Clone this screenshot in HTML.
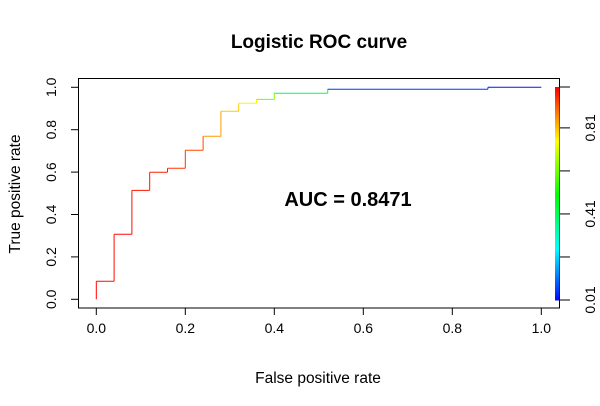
<!DOCTYPE html>
<html><head><meta charset="utf-8"><style>
body{margin:0;background:#fff}
svg{display:block;font-family:"Liberation Sans",Arial,sans-serif}
</style></head><body>
<svg id="chart" width="600" height="406" viewBox="0 0 600 406">
<text x="319" y="48" text-anchor="middle" font-size="19" font-weight="bold">Logistic ROC curve</text>
<rect x="78.5" y="78.5" width="481" height="229.5" fill="none" stroke="#000" stroke-width="1"/>
<text x="318" y="383" text-anchor="middle" font-size="15.5">False positive rate</text>
<text transform="translate(20,194) rotate(-90)" text-anchor="middle" font-size="15.5">True positive rate</text>
<text x="348" y="206" text-anchor="middle" font-size="20" font-weight="bold">AUC = 0.8471</text>
<g id="axes"></g>
<g id="curve"></g>
<g id="cbar"></g>
</svg>
<script>
const fprSteps = [0, 0.04, 0.08, 0.12, 0.16, 0.20, 0.24, 0.28, 0.32, 0.36, 0.40, 0.52, 0.88, 1.0];
const tprSteps = [0.085, 0.307, 0.514, 0.599, 0.618, 0.703, 0.769, 0.887, 0.925, 0.943, 0.972, 0.991, 1.0, 1.0];
const thresholds = [1.0, 0.99, 0.99, 0.98, 0.97, 0.95, 0.93, 0.85, 0.8, 0.76, 0.62, 0.42, 0.05, 0.02];
const xTicks = [0, 0.2, 0.4, 0.6, 0.8, 1.0];
const xTickLabels = ["0.0", "0.2", "0.4", "0.6", "0.8", "1.0"];
const yTicks = [0, 0.2, 0.4, 0.6, 0.8, 1.0];
const yTickLabels = ["0.0", "0.2", "0.4", "0.6", "0.8", "1.0"];
const cbarTicks = [0.01, 0.21, 0.41, 0.61, 0.81, 1.0];
const cbarLabels = ["0.01", "", "0.41", "", "0.81", ""];

const NS = "http://www.w3.org/2000/svg";
const xs = v => 96.3 + v * 445;
const ys = v => 299.3 - v * 212;
const cy = t => 300 - (t - 0.01) / 0.99 * 213;
const col = t => `hsl(${Math.max(0, Math.min(240, 240 * (1 - t)))},100%,50%)`;
function mk(tag, attrs, parent) { const e = document.createElementNS(NS, tag); for (const k in attrs) e.setAttribute(k, attrs[k]); parent.appendChild(e); return e; }

const axes = document.getElementById('axes');
const xl = mk('line', {x1: xs(0), x2: xs(1), y1: 308, y2: 308, stroke: '#000'}, axes);


xTicks.forEach((v, i) => {
  const t = mk('line', {x1: xs(v), x2: xs(v), y1: 308, y2: 315, stroke: '#000'}, axes);
  
  
  const l = mk('text', {x: xs(v), y: 333, 'text-anchor': 'middle', 'font-size': 14}, axes);
  l.textContent = xTickLabels[i];
  
  
});
const yl = mk('line', {x1: 78.5, x2: 78.5, y1: ys(0), y2: ys(1), stroke: '#000'}, axes);


yTicks.forEach((v, i) => {
  const t = mk('line', {x1: 71, x2: 78.5, y1: ys(v), y2: ys(v), stroke: '#000'}, axes);
  
  
  const l = mk('text', {transform: `translate(56,${ys(v)}) rotate(-90)`, 'text-anchor': 'middle', 'font-size': 14}, axes);
  l.textContent = yTickLabels[i];
  
  
});

const curve = document.getElementById('curve');
let px = 0, py = 0;
fprSteps.forEach((f, i) => {
  const c = col(thresholds[i]);
  if (f !== px) {
    const h = mk('line', {x1: xs(px), x2: xs(f), y1: ys(py), y2: ys(py), stroke: c, 'stroke-width': 1}, curve);
    
    
  }
  if (tprSteps[i] !== py) {
    const v = mk('line', {x1: xs(f), x2: xs(f), y1: ys(py), y2: ys(tprSteps[i]), stroke: c, 'stroke-width': 1}, curve);
    
    
  }
  px = f; py = tprSteps[i];
});

const cbar = document.getElementById('cbar');
for (let k = 0; k < 100; k++) {
  const t0 = 0.01 + k * 0.99 / 100, t1 = t0 + 0.99 / 100;
  const r = mk('rect', {x: 555, width: 4.5, y: cy(t1), height: cy(t0) - cy(t1) + 0.5, fill: col((t0 + t1) / 2)}, cbar);
  
  
}
cbarTicks.forEach((t, i) => {
  const l = mk('line', {x1: 559.5, x2: 570, y1: cy(t), y2: cy(t), stroke: '#000'}, cbar);
  
  
  if (cbarLabels[i]) {
    const tx = mk('text', {transform: `translate(595,${cy(t)}) rotate(-90)`, 'text-anchor': 'middle', 'font-size': 14}, cbar);
    tx.textContent = cbarLabels[i];
    
    
  }
});
</script>
</body></html>
